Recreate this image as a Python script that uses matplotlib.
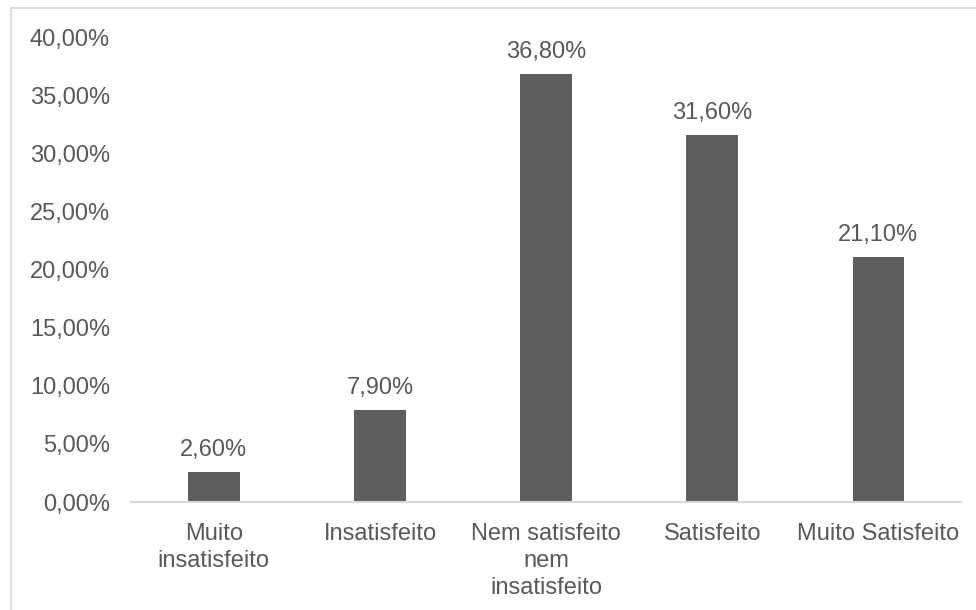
import matplotlib.pyplot as plt
from matplotlib.patches import Rectangle
from matplotlib.ticker import FuncFormatter

plt.rcParams["font.family"] = ["Liberation Sans", "DejaVu Sans"]

categories = ["Muito\ninsatisfeito", "Insatisfeito", "Nem satisfeito\nnem\ninsatisfeito",
              "Satisfeito", "Muito Satisfeito"]
values = [2.6, 7.9, 36.8, 31.6, 21.1]

grey = "#595959"
bar_grey = "#5E5E5E"
light = "#D9D9D9"

fig = plt.figure(figsize=(9.76, 6.1), dpi=100)
ax = fig.add_axes([0.134, 0.177, 0.851, 0.762])

# outer chart frame
fig.patches.append(Rectangle((11 / 976, -0.05), 1.2, 1 - 8 / 610 + 0.05,
                             transform=fig.transFigure, fill=False,
                             edgecolor=light, linewidth=1.3))

x = range(len(categories))
ax.bar(x, values, width=0.31, color=bar_grey)

for xi, v in zip(x, values):
    ax.annotate(f"{v:.2f}%".replace(".", ","), (xi, v), xytext=(0, 11.5),
                textcoords="offset points", ha="center", va="baseline",
                fontsize=17, color=grey)

ax.set_xlim(-0.5, len(categories) - 0.5)
ax.set_ylim(0, 40)
ax.set_yticks(range(0, 41, 5))
ax.yaxis.set_major_formatter(FuncFormatter(lambda v, p: f"{v:.2f}%".replace(".", ",")))
ax.set_xticks(list(x))
ax.set_xticklabels(categories, linespacing=1.3)

ax.tick_params(axis="y", length=0, pad=15, labelsize=17, labelcolor=grey)
ax.tick_params(axis="x", length=0, pad=15, labelsize=17, labelcolor=grey)

for s in ["top", "right", "left"]:
    ax.spines[s].set_visible(False)
ax.spines["bottom"].set_color(light)
ax.spines["bottom"].set_linewidth(1.5)

fig.savefig("out.png", dpi=100)
